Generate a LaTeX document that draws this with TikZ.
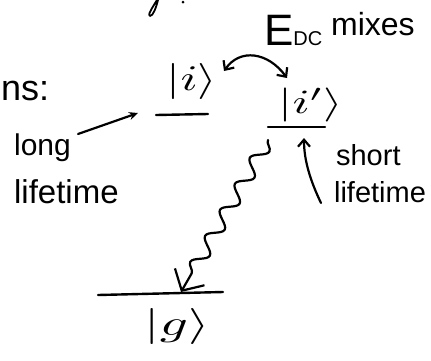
\documentclass[tikz,border=0pt]{standalone}
\usepackage{fontspec}
\setmainfont{Liberation Sans}
\usetikzlibrary{arrows.meta,decorations.pathmorphing}
\begin{document}
\begin{tikzpicture}[x=1pt,y=-1pt, line width=2.2pt, line cap=round, line join=round,
 txt/.style={inner sep=0pt, anchor=base west},
 ket/.style={inner sep=0pt},
 level/.style={line width=2.4pt},
 barb/.style={-{Straight Barb[length=7pt,width=12pt]}},
 dbarb/.style={{Straight Barb[length=7pt,width=13pt]}-{Straight Barb[length=7pt,width=13pt]}},
 wave/.style={decorate, decoration={snake, amplitude=7pt, segment length=30pt, post length=14pt}},
]
\useasboundingbox (0,0) rectangle (431,360);

% kets
\node[ket] (i) at (192,81) {\scalebox{5}[3.6]{$|i\rangle$}};
\node[ket] (ip) at (311,105) {\scalebox{5}[3.4]{$|i'\rangle$}};
\node[ket] (g) at (177,326) {\scalebox{5.5}[3.6]{$|g\rangle$}};

% levels
\coordinate (iL) at (156,115); \coordinate (iR) at (208,114);
\coordinate (ipL) at (268,127); \coordinate (ipR) at (325,127);
\coordinate (gL) at (98,295); \coordinate (gR) at (223,292);
\draw[level] (iL) -- (iR);
\draw[level] (ipL) -- (ipR);
\draw[level] (gL) -- (gR);

% texts
\node[txt, font=\fontsize{36}{36}\selectfont] (ns) at (0,100) {ns:};
\node[txt, font=\fontsize{30}{30}\selectfont] (long) at (13,155) {long};
\node[txt, font=\fontsize{33}{33}\selectfont] (lifel) at (13,203) {lifetime};
\node[txt, font=\fontsize{29}{29}\selectfont] (short) at (335,165) {short};
\node[txt, font=\fontsize{29}{29}\selectfont] (lifes) at (333,202) {lifetime};
\node[txt, font=\fontsize{44}{44}\selectfont] (edc) at (263,45) {E\fontsize{20}{20}\selectfont DC};
\node[txt, font=\fontsize{32}{32}\selectfont] (mixes) at (330,35) {mixes};

% long lifetime arrow
\coordinate (longtail) at (78,134); \coordinate (longhead) at (138,113);
\draw[-{Stealth[length=9pt,width=8pt]}] (longtail) -- (longhead);

% E_DC mixing arrow
\coordinate (mixL) at (224,71); \coordinate (mixR) at (287,78);
\draw[dbarb] (mixL) .. controls (240,48) and (268,52) .. (mixR);

% wavy decay
\coordinate (wtop) at (268,140); \coordinate (wend) at (181,292);
\draw[wave, -{Straight Barb[length=16pt,width=34pt]}] (wtop) -- (wend);

% short lifetime arrow
\coordinate (stail) at (321,203); \coordinate (shead) at (304,138);
\draw[barb] (stail) .. controls (310,180) and (304,160) .. (shead);

% fragment at top
\draw[line width=1.8pt] (157,0) .. controls (152,8) and (147,16) .. (150,16) .. controls (153,16) and (156,8) .. (158,0);
\fill (183,2) circle (1.5pt);
\end{tikzpicture}
\end{document}
